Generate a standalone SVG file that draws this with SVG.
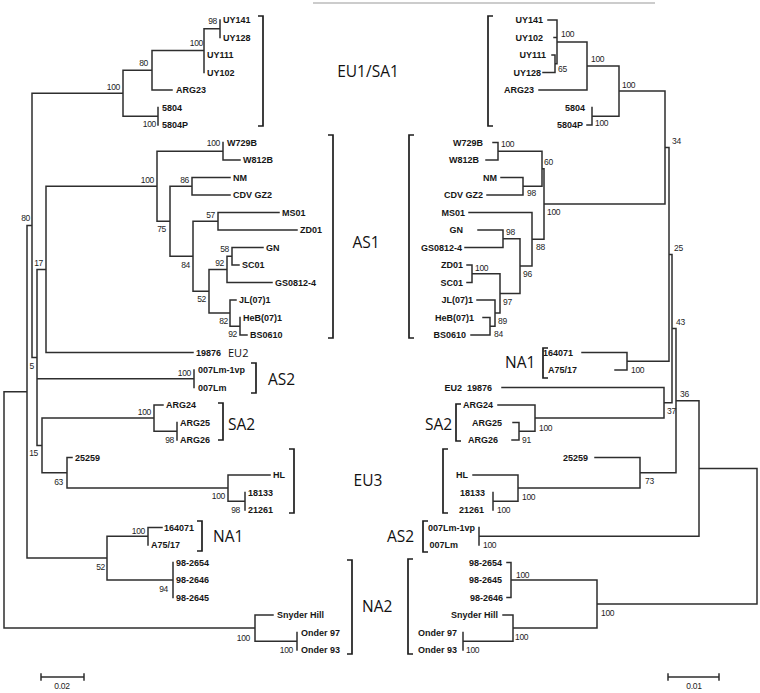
<svg xmlns="http://www.w3.org/2000/svg" width="760" height="693" viewBox="0 0 760 693">
<style>
.br{fill:none;stroke:#2e2e2e;stroke-width:1.5;stroke-linecap:square}
.bk{fill:none;stroke:#1e1e1e;stroke-width:1.7}
.lf{font-family:"Liberation Sans",Arial,sans-serif;font-size:9px;font-weight:bold;fill:#161616}
.r{text-anchor:end}
.bs{font-family:"Liberation Sans",Arial,sans-serif;font-size:8.5px;letter-spacing:-0.3px;fill:#1e1e1e}
.cl{font-family:"Open Sans","Noto Sans",sans-serif;font-size:15.5px;fill:#111}
.sm{font-family:"Open Sans","Noto Sans",sans-serif;font-size:11px;fill:#111}
</style>
<rect width="760" height="693" fill="#fff"/>
<line x1="313" y1="3" x2="655" y2="3" stroke="#999" stroke-width="1"/>

<g id="connectors">
<path class="br" d="M4,391.8V628.1M4,391.8H27M4,628.1H255
M27,225.4V558.1M27,225.4H32M27,558.1H107
M32,93.3V357.4H37M32,93.3H123
M123,70.3V116.25M123,70.3H152M123,116.25H158
M152,50.6V90H172M152,50.6H204
M204,28.75V72.5M204,28.75H220
M220,20V37.5
M158,107.5V125
M37,269.4V445.5M37,269.4H46M37,378.75H194M37,445.5H42
M46,186.3V352.5H193M46,186.3H157
M157,151.25V221.3H170M157,151.25H223
M223,142.5V160H240
M170,186.25V256.3H193M170,186.25H192
M192,177.5V195H230M192,177.5H230
M193,221.25V291.3H209M193,221.25H218
M218,212.5V230H297M218,212.5H279
M209,269.4V313.1H230M209,269.4H227
M227,256.25V282.5H272M227,256.25H232
M232,247.5V265H239M232,247.5H263
M230,300V326.25H240M230,300H236
M240,317.5V335H247
M194,370V387.5
M42,418.1V472.8H67M42,418.1H154
M154,405V431.25H177M154,405H163
M177,422.5V440
M67,457.5V488.1H228M67,457.5H72
M228,475V501.25H245M228,475H270
M245,492.5V510
M107,536.25V580H173M107,536.25H148
M148,527.5V545M148,527.5H162
M173,562.5V597.5
M255,615V641.25H297M255,615H273
M297,632.5V650"/>
<path class="br" d="M757,468.5V604M757,468.5H699M757,604H597
M699,400.7V536.25H479M699,400.7H676
M676,328.6V472.8H640M676,328.6H672
M672,254.4V402.8H664M672,254.4H669
M669,147.6V361.25H627M669,147.6H665
M665,91.1V204H544M665,91.1H619
M619,66V116.25H592M619,66H587
M587,41.9V90H539M587,41.9H557
M557,20V63.75H555M557,20H548M557,37.5H554
M555,55V72.5H543M555,55H552
M592,107.5V125H587
M544,168.75V239.3H532M544,168.75H542
M542,151.25V186.25H523M542,151.25H498
M498,142.5V160H486M498,142.5H493
M523,177.5V195H487M523,177.5H501
M532,212.5V266.1H520M532,212.5H469
M520,238.75V293.4H500M520,238.75H503
M503,230V247.5H465M503,230H478
M500,273.75V313.1H495M500,273.75H472
M472,265V282.5H467M472,265H467
M495,300V326.25H490M495,300H477
M490,317.5V335H471M490,317.5H483
M627,352.5V370H615M627,352.5H582
M664,387.5V418.1H535M664,387.5H502
M535,405V431.25H519M535,405H498
M519,422.5V440H512M519,422.5H513
M640,457.5V488.1H518M640,457.5H595
M518,475V501.25H493M518,475H473
M493,492.5V510
M479,527.5V545
M597,580V628.1H513M597,580H511
M511,562.5V597.5H507M511,562.5H507
M513,615V641.25H463M513,615H503
M463,632.5V650"/>
</g>

<g id="bootstrap-left" class="bs r">
<text x="217" y="24">98</text><text x="203" y="46">100</text><text x="148" y="66">80</text><text x="120" y="90">100</text><text x="156" y="127">100</text>
<text x="220" y="146">100</text><text x="154" y="183">100</text><text x="189" y="183">86</text><text x="166" y="232">75</text><text x="215" y="218">57</text>
<text x="190" y="268">84</text><text x="229" y="252">58</text><text x="224" y="266">92</text><text x="206" y="302">52</text><text x="228" y="324">82</text><text x="237" y="337">92</text>
<text x="30" y="221">80</text><text x="43" y="266">17</text><text x="34" y="369">5</text><text x="38" y="456">15</text>
<text x="191" y="376">100</text><text x="151" y="415">100</text><text x="174" y="443">98</text><text x="63" y="485">63</text><text x="225" y="499">100</text><text x="240" y="513">98</text>
<text x="145" y="534">100</text><text x="105" y="570">52</text><text x="168" y="592">94</text><text x="250" y="641">100</text><text x="293" y="653">100</text>
</g>
<g id="bootstrap-right" class="bs">
<text x="561" y="37">100</text><text x="558" y="72">65</text><text x="591" y="62">100</text><text x="622" y="88">100</text><text x="595" y="126">100</text>
<text x="501" y="147">100</text><text x="544" y="165">60</text><text x="527" y="196">98</text><text x="547" y="215">100</text><text x="536" y="250">88</text>
<text x="506" y="235">98</text><text x="475" y="271">100</text><text x="523" y="277">96</text><text x="503" y="305">97</text><text x="498" y="324">89</text><text x="494" y="337">84</text>
<text x="672" y="144">34</text><text x="674" y="251">25</text><text x="676" y="325">43</text><text x="680" y="397">36</text><text x="667" y="414">37</text>
<text x="631" y="373">100</text><text x="539" y="431">100</text><text x="522" y="443">91</text><text x="645" y="484">73</text><text x="522" y="500">100</text><text x="497" y="513">100</text>
<text x="483" y="548">100</text><text x="516" y="578">100</text><text x="601" y="616">100</text><text x="515" y="640">100</text><text x="466" y="653">100</text>
</g>

<g id="leaves-left" class="lf">
<g id="l-UY141"><text x="223" y="23.3">UY141</text></g>
<g id="l-UY128"><text x="223" y="40.8">UY128</text></g>
<g id="l-UY111"><text x="207" y="58.3">UY111</text></g>
<g id="l-UY102"><text x="207" y="75.8">UY102</text></g>
<g id="l-ARG23"><text x="176" y="93.3">ARG23</text></g>
<g id="l-5804"><text x="162" y="110.8">5804</text></g>
<g id="l-5804P"><text x="162" y="128.3">5804P</text></g>
<g id="l-W729B"><text x="227" y="145.8">W729B</text></g>
<g id="l-W812B"><text x="243" y="163.3">W812B</text></g>
<g id="l-NM"><text x="233" y="180.8">NM</text></g>
<g id="l-CDVGZ2"><text x="233" y="198.3">CDV GZ2</text></g>
<g id="l-MS01"><text x="282" y="215.8">MS01</text></g>
<g id="l-ZD01"><text x="300" y="233.3">ZD01</text></g>
<g id="l-GN"><text x="266" y="250.8">GN</text></g>
<g id="l-SC01"><text x="242" y="268.3">SC01</text></g>
<g id="l-GS0812-4"><text x="275" y="285.8">GS0812-4</text></g>
<g id="l-JL071"><text x="239" y="303.3">JL(07)1</text></g>
<g id="l-HeB071"><text x="243" y="320.8">HeB(07)1</text></g>
<g id="l-BS0610"><text x="250" y="338.3">BS0610</text></g>
<g id="l-19876"><text x="196" y="355.8">19876</text></g>
<g id="l-007Lm-1vp"><text x="198" y="373.3">007Lm-1vp</text></g>
<g id="l-007Lm"><text x="198" y="390.8">007Lm</text></g>
<g id="l-ARG24"><text x="166" y="408.3">ARG24</text></g>
<g id="l-ARG25"><text x="180" y="425.8">ARG25</text></g>
<g id="l-ARG26"><text x="180" y="443.3">ARG26</text></g>
<g id="l-25259"><text x="75" y="460.8">25259</text></g>
<g id="l-HL"><text x="273" y="478.3">HL</text></g>
<g id="l-18133"><text x="248" y="495.8">18133</text></g>
<g id="l-21261"><text x="248" y="513.3">21261</text></g>
<g id="l-164071"><text x="164" y="530.8">164071</text></g>
<g id="l-A75-17"><text x="151" y="548.3">A75/17</text></g>
<g id="l-98-2654"><text x="176" y="565.8">98-2654</text></g>
<g id="l-98-2646"><text x="176" y="583.3">98-2646</text></g>
<g id="l-98-2645"><text x="176" y="600.8">98-2645</text></g>
<g id="l-SnyderHill"><text x="277" y="618.3">Snyder Hill</text></g>
<g id="l-Onder97"><text x="301" y="635.8">Onder 97</text></g>
<g id="l-Onder93"><text x="301" y="653.3">Onder 93</text></g>
</g>

<g id="leaves-right" class="lf r">
<g id="r-UY141"><text x="543" y="23.3">UY141</text></g>
<g id="r-UY102"><text x="543" y="40.8">UY102</text></g>
<g id="r-UY111"><text x="546" y="58.3">UY111</text></g>
<g id="r-UY128"><text x="541" y="75.8">UY128</text></g>
<g id="r-ARG23"><text x="534" y="93.3">ARG23</text></g>
<g id="r-5804"><text x="585" y="110.8">5804</text></g>
<g id="r-5804P"><text x="583" y="128.3">5804P</text></g>
<g id="r-W729B"><text x="483" y="145.8">W729B</text></g>
<g id="r-W812B"><text x="479" y="163.3">W812B</text></g>
<g id="r-NM"><text x="497" y="180.8">NM</text></g>
<g id="r-CDVGZ2"><text x="483" y="198.3">CDV GZ2</text></g>
<g id="r-MS01"><text x="465" y="215.8">MS01</text></g>
<g id="r-GN"><text x="463" y="233.3">GN</text></g>
<g id="r-GS0812-4"><text x="462" y="250.8">GS0812-4</text></g>
<g id="r-ZD01"><text x="463" y="268.3">ZD01</text></g>
<g id="r-SC01"><text x="463" y="285.8">SC01</text></g>
<g id="r-JL071"><text x="473" y="303.3">JL(07)1</text></g>
<g id="r-HeB071"><text x="474" y="320.8">HeB(07)1</text></g>
<g id="r-BS0610"><text x="466" y="338.3">BS0610</text></g>
<g id="r-164071"><text x="573" y="355.8">164071</text></g>
<g id="r-A75-17"><text x="577" y="373.3">A75/17</text></g>
<g id="r-19876"><text x="492" y="390.8">19876</text></g>
<g id="r-ARG24"><text x="493" y="408.3">ARG24</text></g>
<g id="r-ARG25"><text x="502" y="425.8">ARG25</text></g>
<g id="r-ARG26"><text x="498" y="443.3">ARG26</text></g>
<g id="r-25259"><text x="588" y="460.8">25259</text></g>
<g id="r-HL"><text x="468" y="478.3">HL</text></g>
<g id="r-18133"><text x="485" y="495.8">18133</text></g>
<g id="r-21261"><text x="484" y="513.3">21261</text></g>
<g id="r-007Lm-1vp"><text x="475" y="530.8">007Lm-1vp</text></g>
<g id="r-007Lm"><text x="458" y="548.3">007Lm</text></g>
<g id="r-98-2654"><text x="502" y="565.8">98-2654</text></g>
<g id="r-98-2645"><text x="502" y="583.3">98-2645</text></g>
<g id="r-98-2646"><text x="503" y="600.8">98-2646</text></g>
<g id="r-SnyderHill"><text x="498" y="618.3">Snyder Hill</text></g>
<g id="r-Onder97"><text x="457" y="635.8">Onder 97</text></g>
<g id="r-Onder93"><text x="457" y="653.3">Onder 93</text></g>
<g id="r-EU2"><text x="462" y="390.8">EU2</text></g>
</g>

<g id="clades-left">
<path class="bk" d="M258,16H263V126H258M328,135H333V338H328M251,363H256V393H251M218,403H223V440H218M289,449H294V513H289M197,521H202V551H197M347,560H352V654H347"/>
<text class="cl" x="368" y="77" text-anchor="middle">EU1/SA1</text>
<text class="cl" x="366" y="248" text-anchor="middle">AS1</text>
<text class="cl" x="368" y="486" text-anchor="middle">EU3</text>
<text class="sm" x="228" y="357">EU2</text>
<text class="cl" x="268" y="385">AS2</text>
<text class="cl" x="228" y="430">SA2</text>
<text class="cl" x="213" y="542">NA1</text>
<text class="cl" x="362" y="612">NA2</text>
</g>
<g id="clades-right">
<path class="bk" d="M493,16H488V126H493M414,135H409V338H414M548,348H543V378H548M461,404H456V441H461M448,449H443V513H448M428,521H423V552H428M413,559H408V654H413"/>
<text class="cl" x="505" y="368">NA1</text>
<text class="cl" x="425" y="430">SA2</text>
<text class="cl" x="387" y="542">AS2</text>
</g>

<g id="scale-left">
<path class="br" d="M41,677H84M41,674V680M84,674V680"/>
<text class="bs" x="62" y="689" text-anchor="middle">0.02</text>
</g>
<g id="scale-right">
<path class="br" d="M668,677H719M668,674V680M719,674V680"/>
<text class="bs" x="694" y="689" text-anchor="middle">0.01</text>
</g>
</svg>
